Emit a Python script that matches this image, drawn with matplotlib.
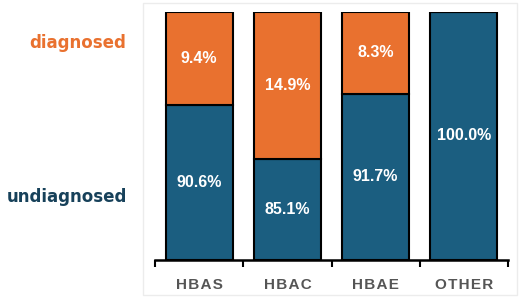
import matplotlib
matplotlib.use("Agg")
import matplotlib.pyplot as plt
from matplotlib.patches import Rectangle

categories = ["HBAS", "HBAC", "HBAE", "OTHER"]
# bar heights as drawn in the picture (segments are not to scale with the labels)
undiag_height = [62.5, 40.7, 67.0, 100.0]
diag_height = [37.5, 59.3, 33.0, 0.0]
undiag_labels = ["90.6%", "85.1%", "91.7%", "100.0%"]
diag_labels = ["9.4%", "14.9%", "8.3%", ""]

blue = "#1b5e80"
orange = "#e9712f"

fig = plt.figure(figsize=(5.2, 2.98), dpi=100)
fig.patches.append(Rectangle((143/520, 3/298), 374/520, 292/298, transform=fig.transFigure,
                             fill=False, edgecolor="#ececec", linewidth=1))
ax = fig.add_axes([155/520, 1-260/298, 353/520, 248/298])

x = range(len(categories))
ax.bar(x, undiag_height, width=0.76, color=blue, edgecolor="black", linewidth=1.5)
ax.bar(x, diag_height, width=0.76, bottom=undiag_height, color=orange,
       edgecolor="black", linewidth=1.5)

for i in x:
    ax.text(i, undiag_height[i]/2, undiag_labels[i], ha="center", va="center",
            color="white", fontsize=11.5, fontweight="bold", family="Liberation Sans")
    if diag_labels[i]:
        ax.text(i, undiag_height[i] + diag_height[i]/2, diag_labels[i], ha="center",
                va="center", color="white", fontsize=11.5, fontweight="bold",
                family="Liberation Sans")

ax.set_xlim(-0.5, 3.5)
ax.set_ylim(0, 100)
for s in ["left", "right", "top"]:
    ax.spines[s].set_visible(False)
ax.spines["bottom"].set_linewidth(1.8)
ax.set_yticks([])
ax.set_xticks(list(x))
ax.set_xticklabels(["\u200a".join(c) for c in categories], color="#555555", fontsize=11,
                   fontweight="bold", family=["Liberation Sans", "DejaVu Sans"])
ax.tick_params(axis="x", which="major", length=0, pad=13)
ax.set_xticks([-0.5, 0.5, 1.5, 2.5, 3.5], minor=True)
ax.tick_params(axis="x", which="minor", length=5, width=1.5, direction="out")

fig.text(126/520, 1-43/298, "diagnosed", ha="right", va="center", color=orange,
         fontsize=12, fontweight="bold", family="DejaVu Sans")
fig.text(127/520, 1-197/298, "undiagnosed", ha="right", va="center", color="#17415a",
         fontsize=12, fontweight="bold", family="DejaVu Sans")

fig.savefig("out.png", dpi=100)
